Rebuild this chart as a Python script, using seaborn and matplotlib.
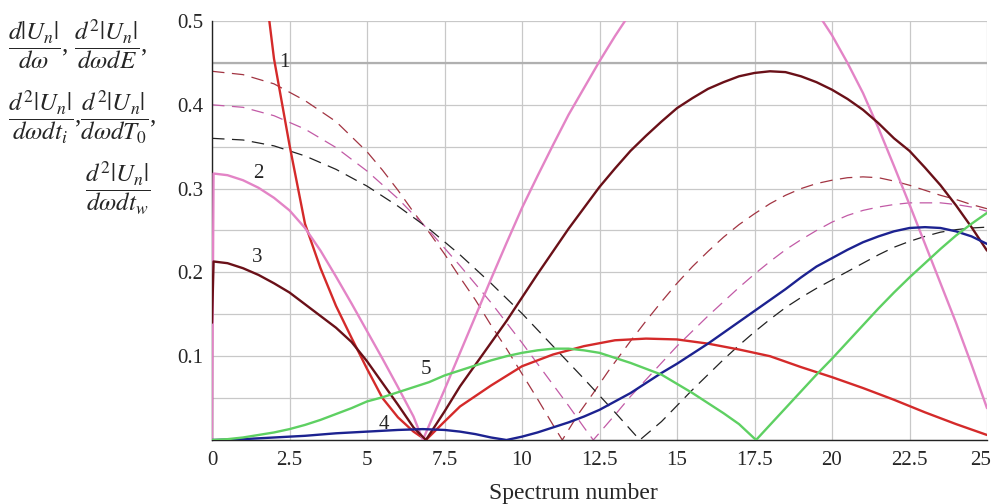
import numpy as np
import matplotlib
matplotlib.use("Agg")
import matplotlib.pyplot as plt
import matplotlib.transforms as mtransforms
import seaborn as sns
from matplotlib.ticker import MultipleLocator

# curve 1 (red, solid)
x1 = [1.75, 2.0, 2.5, 3.0, 3.5, 4.0, 4.5, 5.0, 5.5, 6.0, 6.5, 6.9, 7.5, 8.0, 9.0, 10.0, 11.0,
      12.0, 13.0, 14.0, 15.0, 16.0, 17.0, 18.0, 19.0, 20.0, 21.0, 22.0, 23.0, 24.0, 25.0]
y1 = [0.53, 0.455, 0.352, 0.258, 0.205, 0.16, 0.122, 0.085, 0.05, 0.027, 0.01, 0.0, 0.022, 0.04,
      0.065, 0.088, 0.102, 0.112, 0.119, 0.121, 0.12, 0.115, 0.108, 0.1, 0.087, 0.075, 0.062,
      0.048, 0.033, 0.019, 0.006]

# curve 2 (pink, solid)
x2 = [0.0, 0.05, 0.5, 1.0, 1.5, 2.0, 2.5, 3.0, 3.5, 4.0, 4.5, 5.0, 5.5, 6.0, 6.5, 6.8, 7.5, 8.0,
      8.5, 9.0, 9.5, 10.0, 10.5, 11.0, 11.5, 12.0, 12.5, 13.0, 13.5, 14.0, 15.0, 16.0, 17.0,
      18.0, 19.0, 19.7, 20.0, 20.5, 21.0, 21.5, 22.0, 22.5, 23.0, 23.5, 24.0, 24.5, 25.0]
y2 = [0.0, 0.318, 0.316, 0.31, 0.301, 0.289, 0.274, 0.253, 0.226, 0.195, 0.163, 0.13, 0.097,
      0.063, 0.028, 0.0, 0.06, 0.104, 0.148, 0.192, 0.235, 0.277, 0.315, 0.352, 0.388, 0.42,
      0.452, 0.482, 0.51, 0.535, 0.572, 0.59, 0.59, 0.57, 0.535, 0.5, 0.483, 0.45, 0.414, 0.372,
      0.327, 0.281, 0.234, 0.187, 0.14, 0.09, 0.038]

# curve 3 (maroon, solid)
x3 = [0.0, 0.05, 0.5, 1.0, 1.5, 2.0, 2.5, 3.0, 3.5, 4.0, 4.5, 5.0, 5.5, 6.0, 6.5, 6.9, 7.5, 8.0,
      8.5, 9.0, 9.5, 10.0, 10.5, 11.0, 11.5, 12.0, 12.5, 13.0, 13.5, 14.0, 14.5, 15.0, 15.5,
      16.0, 16.5, 17.0, 17.5, 18.0, 18.5, 19.0, 19.5, 20.0, 20.5, 21.0, 21.5, 22.0, 22.5, 23.0,
      23.5, 24.0, 24.5, 25.0]
y3 = [0.14, 0.213, 0.211, 0.205, 0.197, 0.187, 0.176, 0.162, 0.148, 0.134, 0.117, 0.094, 0.068,
      0.042, 0.015, 0.0, 0.034, 0.064, 0.09, 0.116, 0.142, 0.17, 0.198, 0.225, 0.252, 0.277,
      0.302, 0.324, 0.345, 0.363, 0.38, 0.396, 0.408, 0.419, 0.427, 0.434, 0.438, 0.44, 0.439,
      0.434, 0.427, 0.418, 0.407, 0.394, 0.378, 0.36, 0.345, 0.325, 0.304, 0.28, 0.254, 0.226]

# curve 4 (blue, solid)
x4 = [0.0, 1.0, 2.0, 3.0, 4.0, 5.0, 6.0, 6.8, 7.5, 8.0, 8.5, 9.0, 9.5, 10.0, 10.5, 11.0, 11.5,
      12.0, 12.5, 13.0, 13.5, 14.0, 14.5, 15.0, 15.5, 16.0, 16.5, 17.0, 17.5, 18.0, 18.5, 19.0,
      19.5, 20.0, 20.5, 21.0, 21.5, 22.0, 22.5, 23.0, 23.5, 24.0, 24.5, 25.0]
y4 = [0.0, 0.001, 0.003, 0.005, 0.008, 0.01, 0.012, 0.013, 0.012, 0.01, 0.007, 0.003, 0.0, 0.004,
      0.009, 0.015, 0.021, 0.028, 0.036, 0.046, 0.056, 0.068, 0.08, 0.091, 0.103, 0.115, 0.128,
      0.141, 0.154, 0.167, 0.18, 0.194, 0.207, 0.217, 0.227, 0.236, 0.243, 0.249, 0.253, 0.254,
      0.253, 0.249, 0.243, 0.234]

# curve 5 (green, solid)
x5 = [0.0, 0.5, 1.0, 1.5, 2.0, 2.5, 3.0, 3.5, 4.0, 4.5, 5.0, 5.5, 6.0, 6.5, 7.0, 7.5, 8.0, 8.5,
      9.0, 9.5, 10.0, 10.5, 11.0, 11.5, 12.0, 12.5, 13.0, 13.5, 14.0, 14.5, 15.0, 15.5, 16.0,
      16.5, 17.0, 17.55, 18.0, 18.5, 19.0, 19.5, 20.0, 20.5, 21.0, 21.5, 22.0, 22.5, 23.0, 23.5,
      24.0, 24.5, 25.0]
y5 = [0.0, 0.001, 0.003, 0.006, 0.009, 0.013, 0.018, 0.024, 0.031, 0.038, 0.046, 0.051, 0.057,
      0.063, 0.069, 0.077, 0.083, 0.089, 0.095, 0.1, 0.104, 0.107, 0.109, 0.109, 0.107, 0.104,
      0.098, 0.092, 0.085, 0.078, 0.067, 0.056, 0.044, 0.032, 0.019, 0.0, 0.018, 0.038, 0.058,
      0.078, 0.097, 0.117, 0.137, 0.157, 0.176, 0.194, 0.211, 0.228, 0.244, 0.258, 0.271]

# dashed curves
xa = [0.0, 1.0, 2.0, 3.0, 4.0, 5.0, 5.5, 6.0, 6.5, 7.0, 7.5, 8.0, 8.5, 9.0, 9.5, 10.0, 10.5, 11.0,
      11.3, 11.8, 12.3, 12.8, 13.5, 14.0, 14.5, 15.0, 15.5, 16.0, 16.5, 17.0, 17.5, 18.0, 18.5,
      19.0, 19.5, 20.0, 20.5, 21.0, 21.5, 22.0, 22.5, 23.0, 23.5, 24.0, 24.5, 25.0]
ya = [0.44, 0.436, 0.425, 0.405, 0.38, 0.344, 0.322, 0.298, 0.272, 0.248, 0.222, 0.194, 0.167,
      0.137, 0.109, 0.079, 0.049, 0.018, 0.0, 0.03, 0.056, 0.083, 0.118, 0.142, 0.165, 0.187,
      0.207, 0.225, 0.242, 0.257, 0.27, 0.282, 0.292, 0.3, 0.306, 0.31, 0.313, 0.314, 0.313,
      0.309, 0.304, 0.298, 0.292, 0.287, 0.281, 0.276]

xb = [0.0, 1.0, 2.0, 3.0, 4.0, 5.0, 6.0, 7.0, 8.0, 9.0, 10.0, 11.0, 11.5, 12.0, 12.3, 13.0, 13.5,
      14.0, 14.5, 15.0, 15.5, 16.0, 16.5, 17.0, 17.5, 18.0, 18.5, 19.0, 19.5, 20.0, 20.5, 21.0,
      21.5, 22.0, 22.5, 23.0, 23.5, 24.0, 24.5, 25.0]
yb = [0.4, 0.397, 0.387, 0.371, 0.349, 0.321, 0.288, 0.25, 0.208, 0.164, 0.116, 0.066, 0.041,
      0.015, 0.0, 0.03, 0.052, 0.072, 0.092, 0.112, 0.13, 0.148, 0.165, 0.182, 0.198, 0.213,
      0.227, 0.239, 0.25, 0.26, 0.268, 0.274, 0.278, 0.281, 0.283, 0.283, 0.283, 0.281, 0.278,
      0.273]

xc = [0.0, 1.0, 2.0, 3.0, 4.0, 5.0, 6.0, 7.0, 8.0, 9.0, 10.0, 11.0, 12.0, 13.0, 13.8, 14.5, 15.0,
      15.5, 16.0, 16.5, 17.0, 17.5, 18.0, 18.5, 19.0, 19.5, 20.0, 20.5, 21.0, 21.5, 22.0, 22.5,
      23.0, 23.5, 24.0, 24.5, 25.0]
yc = [0.36, 0.358, 0.351, 0.339, 0.323, 0.303, 0.279, 0.252, 0.221, 0.187, 0.151, 0.112, 0.073,
      0.033, 0.0, 0.022, 0.041, 0.06, 0.078, 0.096, 0.113, 0.129, 0.144, 0.158, 0.17, 0.181,
      0.191, 0.201, 0.211, 0.221, 0.23, 0.237, 0.243, 0.248, 0.251, 0.253, 0.254]

curve_labels = ["1", "2", "3", "4", "5"]
label_x = [2.35, 1.5, 1.45, 5.55, 6.9]
label_y = [0.45, 0.318, 0.218, 0.018, 0.084]

x_ticks = [0, 2.5, 5, 7.5, 10, 12.5, 15, 17.5, 20, 22.5, 25]
x_ticklabels = ["0", "2.5", "5", "7.5", "10", "12.5", "15", "17.5", "20", "22.5", "25"]
y_ticks = [0.1, 0.2, 0.3, 0.4, 0.5]
y_ticklabels = ["0.1", "0.2", "0.3", "0.4", "0.5"]

sns.set_theme(style="white")
plt.rcParams['font.family'] = ['Liberation Serif', 'DejaVu Serif']
plt.rcParams['mathtext.fontset'] = 'stix'

fig = plt.figure(figsize=(9.92, 5.04), dpi=100)
ax = fig.add_axes([212 / 992, 64 / 504, 775 / 992, 419 / 504])

solid = [
    (x1, y1, '#d42a2a'),
    (x2, y2, '#e384c6'),
    (x3, y3, '#6a1018'),
    (x4, y4, '#1c2290'),
    (x5, y5, '#5ed062'),
]
dashed = [
    (xa, ya, '#a23442'),
    (xb, yb, '#c25aa6'),
    (xc, yc, '#222222'),
]

for xs, ys, c in dashed:
    sns.lineplot(x=xs, y=ys, ax=ax, color=c, lw=0.9, estimator=None, sort=False,
                 linestyle=(0, (10, 6)), zorder=2)
for xs, ys, c in solid:
    sns.lineplot(x=xs, y=ys, ax=ax, color=c, lw=1.7, estimator=None, sort=False, zorder=3)

for t, lx, ly in zip(curve_labels, label_x, label_y):
    ax.text(lx, ly, t, fontsize=15, ha='center', va='center', zorder=5)

ax.set_xlim(0, 25)
ax.set_ylim(0, 0.5)
ax.set_xticks(x_ticks)
ax.set_xticklabels(x_ticklabels)
ax.set_yticks(y_ticks)
ax.set_yticklabels(y_ticklabels)
ax.yaxis.set_minor_locator(MultipleLocator(0.05))
ax.tick_params(axis='both', which='both', direction='in', labelsize=15, color='#333333')
ax.tick_params(axis='both', which='major', length=4)
ax.tick_params(axis='x', which='major', pad=8)
ax.tick_params(axis='y', which='both', pad=6)
ax.tick_params(axis='y', which='minor', length=4)
ax.grid(True, which='both', color='#c8c8c8', lw=0.9)
ax.axhline(0.45, color='#b0b0b0', lw=1.6, zorder=1)
ax.set_axisbelow(True)

# keep the last x label inside the canvas
last = ax.get_xticklabels()[-1]
last.set_transform(last.get_transform() +
                   mtransforms.ScaledTranslation(-6 / 100, 0, fig.dpi_scale_trans))

for side in ['top', 'right']:
    ax.spines[side].set_visible(False)
for side in ['left', 'bottom']:
    ax.spines[side].set_color('#222222')
    ax.spines[side].set_linewidth(1.0)

ax.set_xlabel("Spectrum number", fontsize=17)
ax.xaxis.set_label_coords((573 - 212) / 775, -(494 - 440) / 419)
ax.xaxis.label.set_va('center')
ax.set_ylabel("")

fig.text(8 / 992, 1 - 45 / 504,
         r"$\dfrac{d|U_n|}{d\omega}$, $\dfrac{d^2|U_n|}{d\omega dE}$,",
         fontsize=18, ha='left', va='center')
fig.text(8 / 992, 1 - 117 / 504,
         r"$\dfrac{d^2|U_n|}{d\omega dt_i}$,$\dfrac{d^2|U_n|}{d\omega dT_0}$,",
         fontsize=18, ha='left', va='center')
fig.text(150 / 992, 1 - 188 / 504,
         r"$\dfrac{d^2|U_n|}{d\omega dt_w}$",
         fontsize=18, ha='right', va='center')

fig.savefig("out.png", dpi=100)
